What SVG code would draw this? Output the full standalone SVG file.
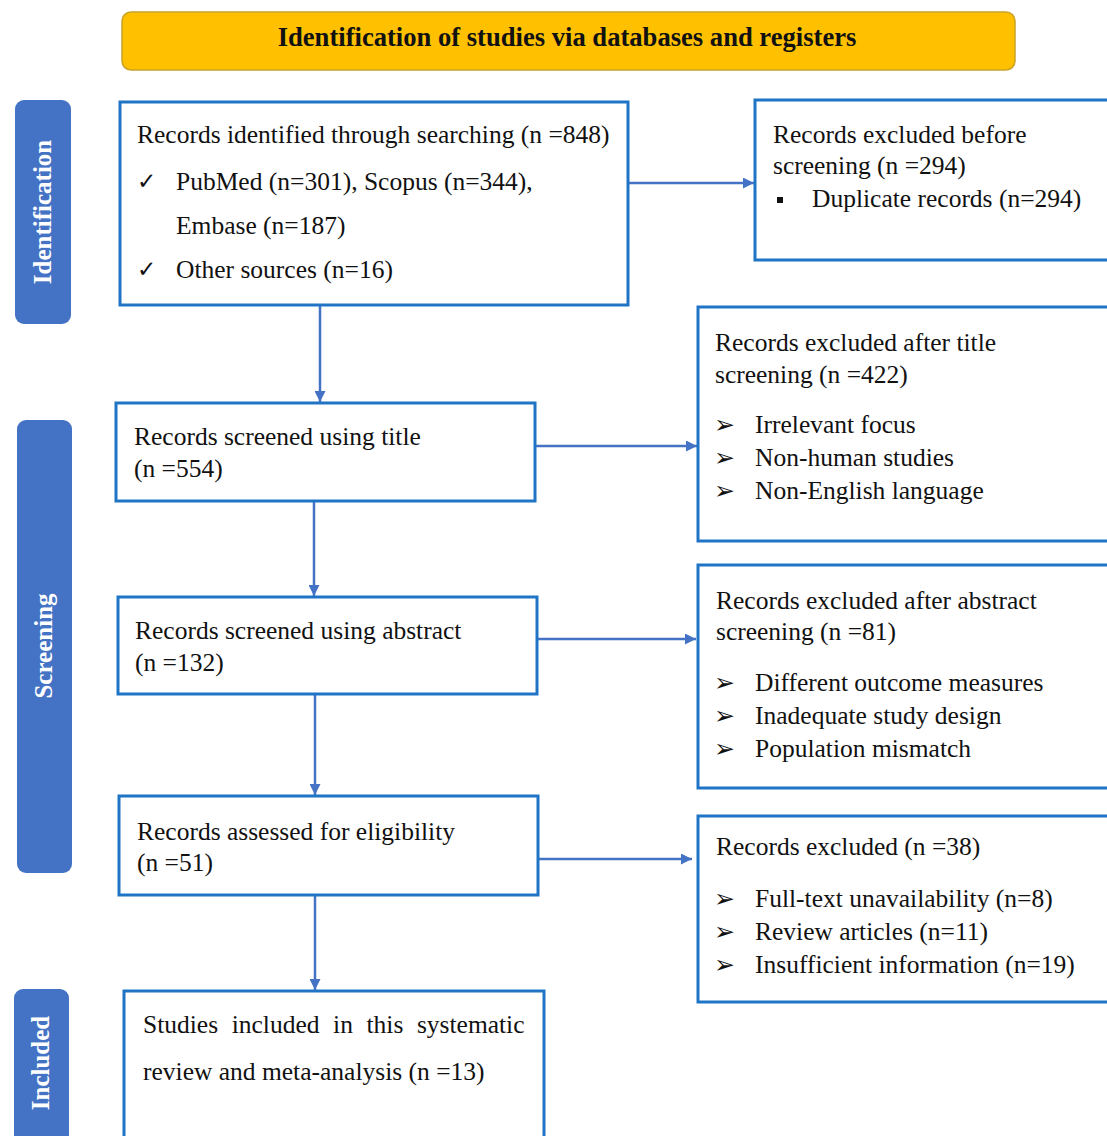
<svg xmlns="http://www.w3.org/2000/svg" width="1107" height="1136" viewBox="0 0 1107 1136">
<style>
  .box { fill: #ffffff; stroke: #1F74C6; stroke-width: 3; }
  .bar { fill: #4472C4; }
  .bartxt { font-family: "Liberation Serif", "Times New Roman", serif; font-size: 25px; font-weight: bold; fill: #ffffff; text-anchor: middle; }
  .t { font-family: "Liberation Serif", "Times New Roman", serif; font-size: 25.5px; fill: #111111; }
  .chk { font-family: "DejaVu Sans", sans-serif; font-size: 23px; fill: #111111; }
  .sym { font-family: "DejaVu Sans", sans-serif; font-size: 25px; font-weight: bold; fill: #111111; }
  .conn { stroke: #4472C4; stroke-width: 2.5; fill: none; marker-end: url(#ah); }
</style>
<defs>
  <marker id="ah" viewBox="0 0 10 10" refX="10" refY="5" markerUnits="userSpaceOnUse" markerWidth="12" markerHeight="11" orient="auto">
    <path d="M0,0 L10,5 L0,10 z" fill="#4472C4"/>
  </marker>
</defs>
<rect width="1107" height="1136" fill="#ffffff"/>

<g id="header">
  <rect x="122" y="12" width="893" height="58" rx="9" fill="#FFC000" stroke="#C9A227" stroke-width="1.5"/>
  <text x="567" y="46" font-family="Liberation Serif, Times New Roman, serif" font-size="26.6" font-weight="bold" text-anchor="middle" fill="#111111">Identification of studies via databases and registers</text>
</g>

<g id="bar-identification">
  <rect class="bar" x="15" y="100" width="56" height="224" rx="9"/>
  <text class="bartxt" transform="translate(51,212) rotate(-90)">Identification</text>
</g>
<g id="bar-screening">
  <rect class="bar" x="17" y="420" width="55" height="453" rx="9"/>
  <text class="bartxt" transform="translate(52,646) rotate(-90)">Screening</text>
</g>
<g id="bar-included">
  <rect class="bar" x="14" y="989" width="55" height="160" rx="9"/>
  <text class="bartxt" transform="translate(49,1063) rotate(-90)">Included</text>
</g>

<g id="connectors">
  <line class="conn" x1="628" y1="183" x2="754" y2="183"/>
  <line class="conn" x1="320" y1="305" x2="320" y2="402"/>
  <line class="conn" x1="535" y1="446" x2="697" y2="446"/>
  <line class="conn" x1="314" y1="501" x2="314" y2="596"/>
  <line class="conn" x1="537" y1="639" x2="696" y2="639"/>
  <line class="conn" x1="315" y1="695" x2="315" y2="795"/>
  <line class="conn" x1="539" y1="859" x2="692" y2="859"/>
  <line class="conn" x1="315" y1="896" x2="315" y2="990"/>
</g>

<g id="node-identified">
  <rect class="box" x="120" y="102" width="508" height="203"/>
  <text class="t" x="137" y="143">Records identified through searching (n =848)</text>
  <text class="chk" x="137" y="189">✓</text>
  <text class="t" x="176" y="190">PubMed (n=301), Scopus (n=344),</text>
  <text class="t" x="176" y="234">Embase (n=187)</text>
  <text class="chk" x="137" y="277">✓</text>
  <text class="t" x="176" y="278">Other sources (n=16)</text>
</g>

<g id="node-excluded-before">
  <rect class="box" x="755" y="100" width="370" height="160"/>
  <text class="t" x="773" y="143">Records excluded before</text>
  <text class="t" x="773" y="174">screening (n =294)</text>
  <rect x="777" y="197" width="6" height="6" fill="#111111"/>
  <text class="t" x="812" y="207">Duplicate records (n=294)</text>
</g>

<g id="node-title">
  <rect class="box" x="116" y="403" width="419" height="98"/>
  <text class="t" x="134" y="445">Records screened using title</text>
  <text class="t" x="134" y="477">(n =554)</text>
</g>

<g id="node-excluded-title">
  <rect class="box" x="698" y="307" width="420" height="234"/>
  <text class="t" x="715" y="351">Records excluded after title</text>
  <text class="t" x="715" y="383">screening (n =422)</text>
  <text class="sym" x="714" y="433">➢</text>
  <text class="t" x="755" y="433">Irrelevant focus</text>
  <text class="sym" x="714" y="466">➢</text>
  <text class="t" x="755" y="466">Non-human studies</text>
  <text class="sym" x="714" y="499">➢</text>
  <text class="t" x="755" y="499">Non-English language</text>
</g>

<g id="node-abstract">
  <rect class="box" x="118" y="597" width="419" height="97"/>
  <text class="t" x="135" y="639">Records screened using abstract</text>
  <text class="t" x="135" y="671">(n =132)</text>
</g>

<g id="node-excluded-abstract">
  <rect class="box" x="698" y="565" width="420" height="223"/>
  <text class="t" x="716" y="609">Records excluded after abstract</text>
  <text class="t" x="716" y="640">screening (n =81)</text>
  <text class="sym" x="714" y="691">➢</text>
  <text class="t" x="755" y="691">Different outcome measures</text>
  <text class="sym" x="714" y="724">➢</text>
  <text class="t" x="755" y="724">Inadequate study design</text>
  <text class="sym" x="714" y="757">➢</text>
  <text class="t" x="755" y="757">Population mismatch</text>
</g>

<g id="node-eligibility">
  <rect class="box" x="119" y="796" width="419" height="99"/>
  <text class="t" x="137" y="840">Records assessed for eligibility</text>
  <text class="t" x="137" y="871">(n =51)</text>
</g>

<g id="node-excluded">
  <rect class="box" x="698" y="816" width="420" height="186"/>
  <text class="t" x="716" y="855">Records excluded (n =38)</text>
  <text class="sym" x="714" y="907">➢</text>
  <text class="t" x="755" y="907">Full-text unavailability (n=8)</text>
  <text class="sym" x="714" y="940">➢</text>
  <text class="t" x="755" y="940">Review articles (n=11)</text>
  <text class="sym" x="714" y="973">➢</text>
  <text class="t" x="755" y="973">Insufficient information (n=19)</text>
</g>

<g id="node-included">
  <rect class="box" x="124" y="991" width="420" height="160"/>
  <text class="t" x="143" y="1033" word-spacing="7.2">Studies included in this systematic</text>
  <text class="t" x="143" y="1080">review and meta-analysis (n =13)</text>
</g>
</svg>
